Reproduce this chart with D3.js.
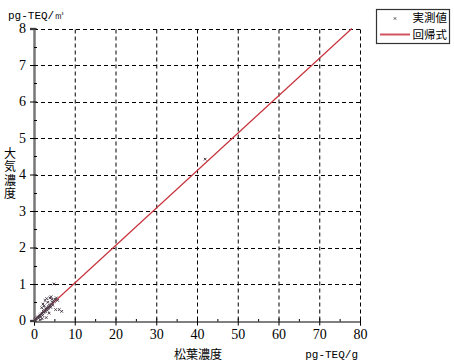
<!DOCTYPE html>
<html><head><meta charset="utf-8">
<script src="https://cdn.jsdelivr.net/npm/d3@7"></script>
<style>
html,body{margin:0;padding:0;background:#fff;}
svg{display:block;}
.vt{writing-mode:vertical-rl;text-orientation:upright;}
</style>
</head><body>
<svg id="c" width="454" height="363"></svg>
<script>
// ---- data ----
const pineConc = [0.2,0.4,0.6,0.8,1.0,1.1,1.3,1.5,1.6,1.8,2.0,2.1,2.3,2.4,2.6,2.8,2.9,3.0,3.2,3.3,3.5,3.6,3.8,4.0,4.1,4.3,4.5,4.6,4.8,5.0,5.2,5.5,5.8,6.2,6.8,2.2,2.7,3.1,3.4,3.9,4.2,4.4,1.9,2.5,3.7,5.3,1.5,3.0,2.0,4.9,42.0];
const airConc  = [0.02,0.05,0.04,0.08,0.10,0.06,0.12,0.15,0.10,0.18,0.20,0.14,0.25,0.22,0.28,0.24,0.32,0.30,0.35,0.28,0.38,0.34,0.42,0.40,0.36,0.45,0.50,0.42,0.55,0.52,0.58,0.62,0.55,0.30,0.25,0.45,0.55,0.60,0.50,0.62,0.65,0.58,0.35,0.40,0.20,0.30,0.02,0.08,0.05,1.00,4.42];
const regX = [0, 78];
const regY = [0, 8.0];
const xTicks = [0,10,20,30,40,50,60,70,80];
const yTicks = [0,1,2,3,4,5,6,7,8];
const legendLabels = ["実測値","回帰式"];
const yTitle = "大気濃度";

// ---- layout ----
const svg = d3.select("#c");
const x = d3.scaleLinear().domain([0,80]).range([34,360]);
const y = d3.scaleLinear().domain([0,8]).range([320.5,28.5]);
const numFont = "'Liberation Serif','DejaVu Serif',serif";
const monoFont = "'Liberation Mono','DejaVu Sans Mono',monospace";
const jpFont = "'Noto Sans CJK JP','Noto Sans CJK SC',sans-serif";

// grid
svg.append("g").selectAll("line").data(xTicks.slice(1)).join("line")
  .attr("x1", d=>x(d)+0.5).attr("x2", d=>x(d)+0.5)
  .attr("y1", y(0)).attr("y2", y(8))
  .attr("stroke","#000").attr("stroke-width",1).attr("stroke-dasharray","4,3");
svg.append("g").selectAll("line").data(yTicks.slice(1)).join("line")
  .attr("x1", x(0)).attr("x2", x(80))
  .attr("y1", d=>Math.round(y(d))+0.5).attr("y2", d=>Math.round(y(d))+0.5)
  .attr("stroke","#000").attr("stroke-width",1).attr("stroke-dasharray","4,3");

// x axis
const xAxis = svg.append("g").attr("transform",`translate(0,${Math.round(y(0))+0.5})`)
  .call(d3.axisBottom(x).tickValues(xTicks).tickSize(4).tickPadding(4).tickFormat(d3.format("d")));
xAxis.select(".domain").attr("stroke","#000");
xAxis.selectAll(".tick line").attr("y1",-3).attr("y2",4);
xAxis.selectAll("text").attr("font-family",numFont).attr("font-size",14).attr("fill","#000");
// minor x ticks
svg.append("g").selectAll("line").data(d3.range(5,80,10)).join("line")
  .attr("x1",d=>x(d)+0.5).attr("x2",d=>x(d)+0.5)
  .attr("y1",Math.round(y(0))-2).attr("y2",Math.round(y(0))+0.5)
  .attr("stroke","#000");

// y axis
const yAxis = svg.append("g").attr("transform",`translate(${x(0)},0)`)
  .call(d3.axisLeft(y).tickValues(yTicks).tickSize(4).tickPadding(4).tickFormat(d3.format("d")));
yAxis.select(".domain").attr("stroke","#777").attr("stroke-width",2.5);
yAxis.selectAll(".tick line").attr("x1",3).attr("x2",-4);
yAxis.selectAll("text").attr("font-family",numFont).attr("font-size",14).attr("fill","#000");
svg.append("g").selectAll("line").data(d3.range(0.5,8,1)).join("line")
  .attr("x1",x(0)).attr("x2",x(0)+3)
  .attr("y1",d=>Math.round(y(d))+0.5).attr("y2",d=>Math.round(y(d))+0.5)
  .attr("stroke","#000");

// regression line
svg.append("line")
  .attr("x1",x(regX[0])).attr("y1",y(regY[0]))
  .attr("x2",x(regX[1])).attr("y2",y(regY[1]))
  .attr("stroke","#c8323c").attr("stroke-width",1.2);

// points
const pts = pineConc.map((v,i)=>[v, airConc[i]]);
const xm = (cx,cy,s)=>`M${cx-s},${cy-s}L${cx+s},${cy+s}M${cx-s},${cy+s}L${cx+s},${cy-s}`;
svg.append("g").selectAll("path").data(pts).join("path")
  .attr("d",d=>xm(x(d[0]),y(d[1]),1.3))
  .attr("stroke","#4a3c4a").attr("stroke-width",1).attr("fill","none");

// axis titles
svg.append("text").attr("x",8).attr("y",19).text("pg-TEQ/㎥")
  .attr("font-family",monoFont).attr("font-size",11).attr("fill","#000");
svg.append("text").attr("x",358).attr("y",358).attr("text-anchor","end").text("pg-TEQ/g")
  .attr("font-family",monoFont).attr("font-size",11).attr("fill","#000");
svg.append("text").attr("x",198).attr("y",359).attr("text-anchor","middle").text("松葉濃度")
  .attr("font-family",jpFont).attr("font-size",12).attr("fill","#000");
svg.append("text").attr("class","vt").attr("x",10).attr("y",174).attr("text-anchor","middle")
  .attr("letter-spacing",1.3).text(yTitle)
  .attr("font-family",jpFont).attr("font-size",12).attr("fill","#000");

// legend
const lg = svg.append("g");
lg.append("rect").attr("x",376.5).attr("y",9.5).attr("width",73).attr("height",34)
  .attr("fill","#fff").attr("stroke","#333").attr("stroke-width",1.2);
lg.append("path").attr("d",xm(395,18.5,1.2)).attr("stroke","#555").attr("fill","none");
lg.append("line").attr("x1",380).attr("x2",410).attr("y1",34.5).attr("y2",34.5)
  .attr("stroke","#d05560").attr("stroke-width",2);
lg.selectAll("text.l").data(legendLabels).join("text").attr("class","l")
  .attr("x",447).attr("y",(d,i)=>22+i*16.5).attr("text-anchor","end").text(d=>d)
  .attr("font-family",jpFont).attr("font-size",11.5).attr("fill","#000");
</script>
</body></html>
